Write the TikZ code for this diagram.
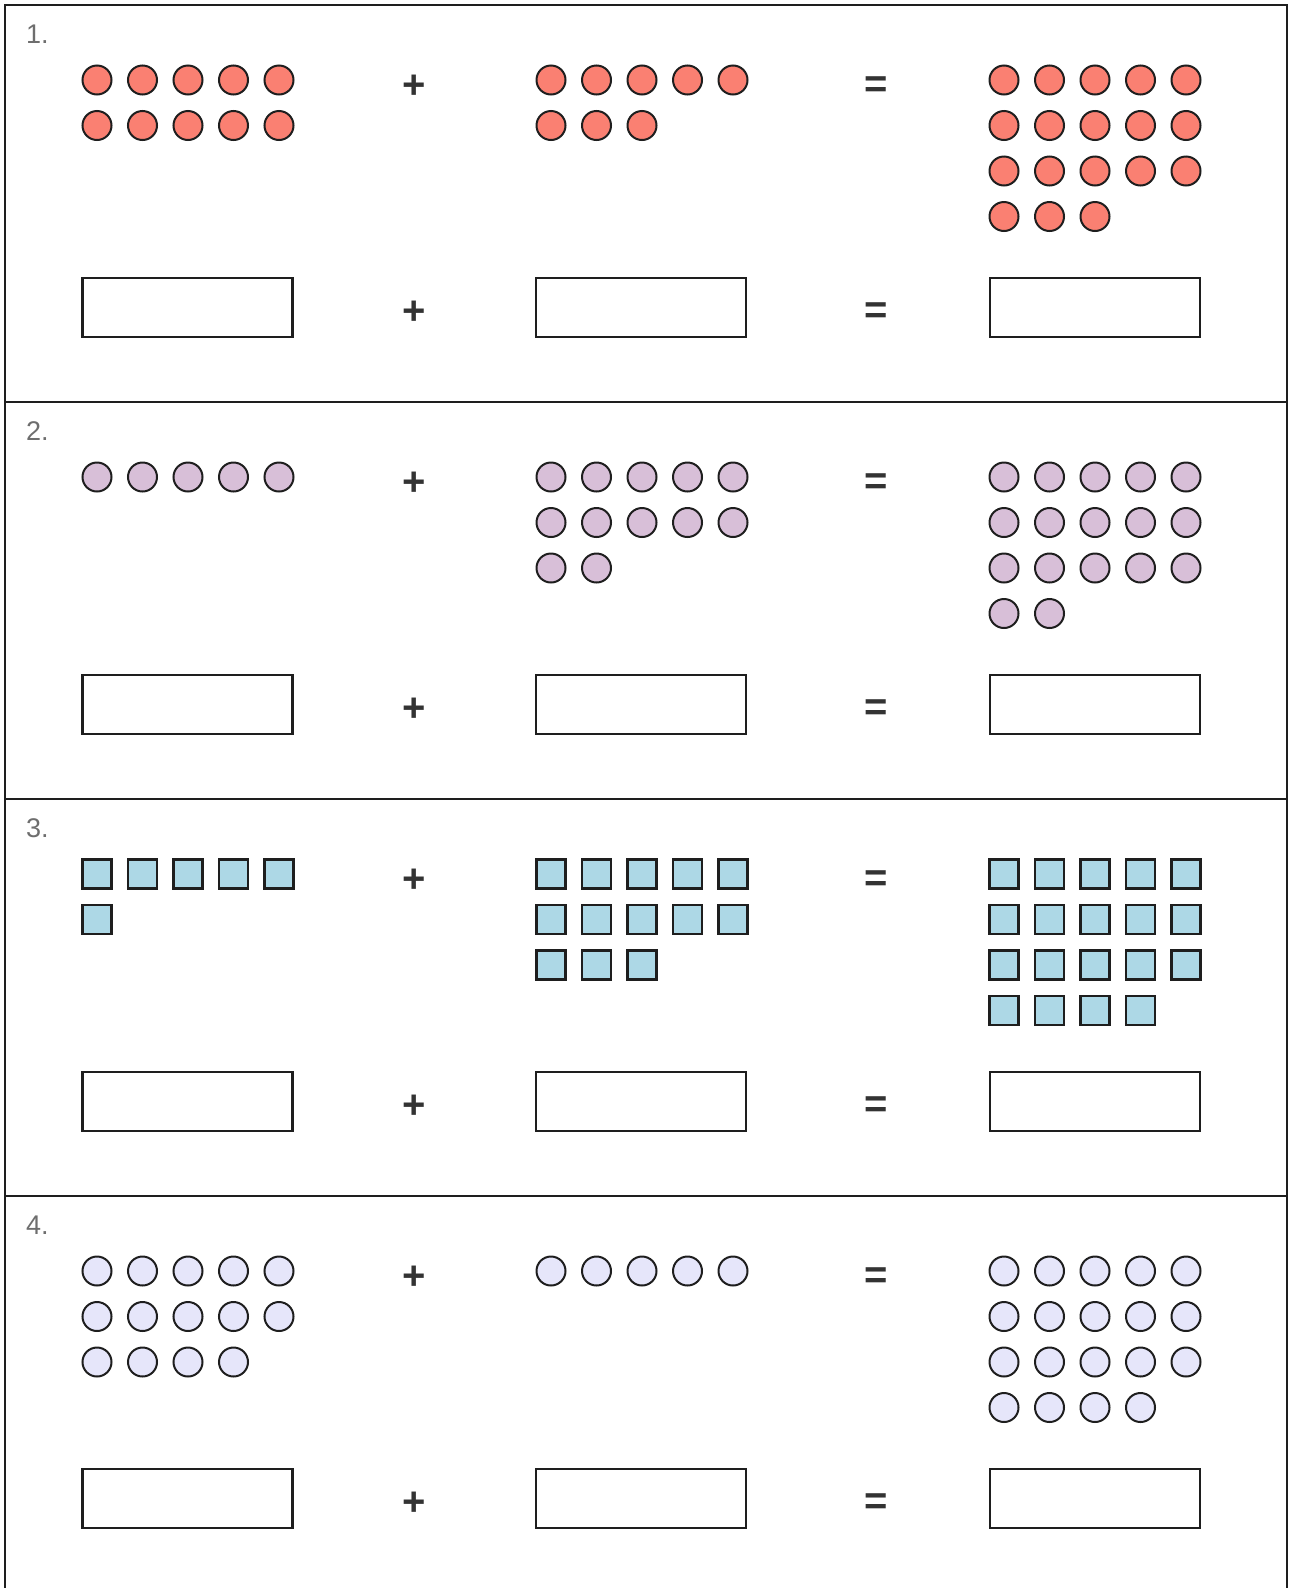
\documentclass[tikz,border=0pt]{standalone}
\usepackage{fontspec}
\setmainfont{Liberation Sans}
\definecolor{redfill}{HTML}{FA8072}
\definecolor{purfill}{HTML}{D8BFD8}
\definecolor{bluefill}{HTML}{ADD8E6}
\definecolor{lavfill}{HTML}{E6E6FA}
\definecolor{edge}{HTML}{1E1E1E}
\definecolor{labgray}{HTML}{6E6E6E}
\definecolor{opgray}{HTML}{333333}
\newcommand{\drawgroup}[5]{%
  \foreach \k in {1,...,#4}{%
    \pgfmathtruncatemacro\rr{(\k-1)/5}%
    \pgfmathtruncatemacro\cc{mod(\k-1,5)}%
    \node[#5] (#1-\k) at ({#2+45.5*\cc},{#3+45.5*\rr}) {};
  }}
\newcommand{\probrow}[6]{% #1 index, #2 y offset, #3 style, #4 nA, #5 nB, #6 nC
  \node[lab] (lab#1) at (26,{43+#2}) {#1.};
  \drawgroup{a#1}{97}{80+#2}{#4}{#3}
  \drawgroup{b#1}{551}{80+#2}{#5}{#3}
  \drawgroup{c#1}{1004}{80+#2}{#6}{#3}
  \node[op] (plus#1) at (414,{87+#2}) {+};
  \node[op] (eq#1) at (876,{87+#2}) {=};
  \node[ansbox] (ansA#1) at (187.5,{307.5+#2}) {};
  \node[ansbox] (ansB#1) at (641,{307.5+#2}) {};
  \node[ansbox] (ansC#1) at (1095,{307.5+#2}) {};
  \node[op] (plusb#1) at (414,{313+#2}) {+};
  \node[op] (eqb#1) at (876,{313+#2}) {=};
}
\begin{document}
\begin{tikzpicture}[x=1pt,y=-1pt,
  reddot/.style={circle, draw=edge, fill=redfill, line width=2pt, minimum size=29pt, inner sep=0pt},
  purdot/.style={circle, draw=edge, fill=purfill, line width=2pt, minimum size=29pt, inner sep=0pt},
  lavdot/.style={circle, draw=edge, fill=lavfill, line width=2pt, minimum size=29pt, inner sep=0pt},
  bluesq/.style={rectangle, draw=edge, fill=bluefill, line width=2.2pt, minimum size=29pt, inner sep=0pt},
  ansbox/.style={rectangle, draw=edge, line width=2.6pt, minimum width=210pt, minimum height=59pt, inner sep=0pt},
  op/.style={font=\bfseries\fontsize{40}{40}\selectfont, text=opgray, inner sep=0pt},
  lab/.style={font=\fontsize{27}{27}\selectfont, text=labgray, anchor=base west, inner sep=0pt},
  frame/.style={draw=edge, line width=2.4pt}]
\useasboundingbox (0,0) rectangle (1292,1588);
\draw[frame] (5,1600) -- (5,5) -- (1287,5) -- (1287,1600);
\draw[frame] (5,402) -- (1287,402);
\draw[frame] (5,799) -- (1287,799);
\draw[frame] (5,1196) -- (1287,1196);
\probrow{1}{0}{reddot}{10}{8}{18}
\probrow{2}{397}{purdot}{5}{12}{17}
\probrow{3}{794}{bluesq}{6}{13}{19}
\probrow{4}{1191}{lavdot}{14}{5}{19}
\end{tikzpicture}
\end{document}
